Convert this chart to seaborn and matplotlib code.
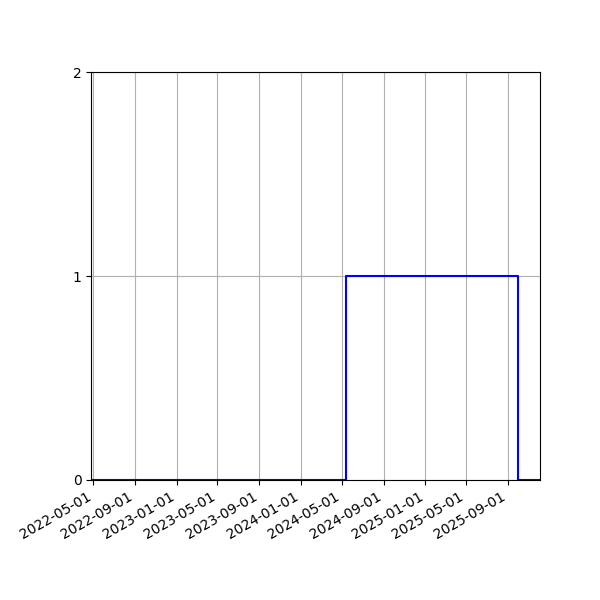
import numpy as np
import pandas as pd
import seaborn as sns
import matplotlib
matplotlib.use("Agg")
import matplotlib.pyplot as plt
import matplotlib.dates as mdates

# step series: value holds from each date until the next one
dates = ["2022-04-25", "2024-05-13", "2025-09-30", "2025-12-04"]
values = [0, 1, 0, 0]
y_ticks = [0, 1, 2]

df = pd.DataFrame({"date": pd.to_datetime(dates), "value": values})

fig, ax = plt.subplots(figsize=(6, 6), dpi=100)
sns.lineplot(x="date", y="value", data=df, ax=ax, color="blue",
             drawstyle="steps-post", linewidth=1.5)

ax.set_xlim(df["date"].min(), df["date"].max())
ax.set_ylim(0, 2)
ax.set_yticks(y_ticks)
ax.xaxis.set_major_locator(mdates.MonthLocator(bymonth=(1, 5, 9)))
ax.xaxis.set_major_formatter(mdates.DateFormatter("%Y-%m-%d"))
ax.set_xlabel("")
ax.set_ylabel("")
ax.grid(True)

fig.autofmt_xdate()
fig.subplots_adjust(left=0.152, right=0.9, top=0.88, bottom=0.2)
plt.savefig("out.png", dpi=100)
